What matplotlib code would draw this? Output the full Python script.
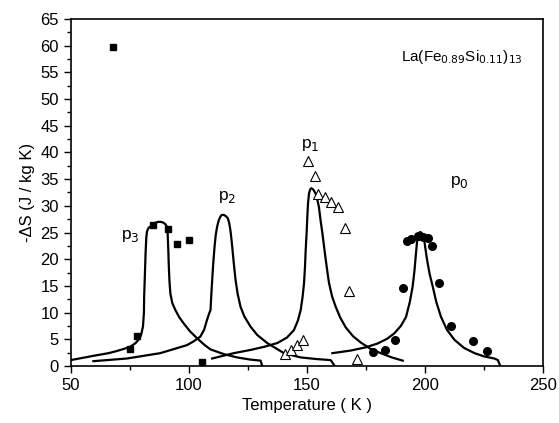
import matplotlib
matplotlib.use('Agg')
import matplotlib.pyplot as plt
from matplotlib.ticker import MultipleLocator

plt.rcParams['font.family'] = ['Liberation Sans', 'DejaVu Sans']

# measured points
t_sq = [68.0, 75.0, 78.1, 84.9, 91.2, 95.0, 100.1, 105.4]
s_sq = [59.8, 3.2, 5.7, 26.4, 25.6, 22.9, 23.6, 0.7]

t_tri = [140.6, 143.1, 145.9, 148.5, 150.5, 153.3, 154.9, 157.6, 160.1, 163.2, 166.0, 167.7, 171.1]
s_tri = [2.2, 3.0, 3.9, 4.9, 38.4, 35.6, 32.2, 31.6, 30.8, 29.8, 25.8, 14.1, 1.4]

t_ci = [177.8, 183.2, 187.5, 190.9, 192.4, 194.1, 197.2, 199.0, 201.2, 202.9, 206.1, 211.1, 220.2, 226.3]
s_ci = [2.7, 3.0, 4.8, 14.7, 23.4, 23.8, 24.3, 24.2, 24.0, 22.5, 15.5, 7.4, 4.7, 2.8]

# calculated curves
t_p3 = [50.0, 59.6, 66.0, 69.5, 72.5, 75.2, 77.5, 78.7, 79.8, 80.6, 81.0, 81.1, 81.4, 81.7,
        82.0, 82.3, 83.0, 83.7, 85.8, 87.0, 87.9, 89.0, 90.0, 90.6, 91.0, 91.3, 91.5, 91.8,
        92.2, 93.0, 94.3, 96.0, 97.8, 100.5, 103.5, 106.5, 109.2, 115.0, 120.5, 126.0, 130.4, 131.1]
s_p3 = [1.1, 1.9, 2.4, 2.8, 3.2, 3.6, 4.3, 4.9, 5.8, 7.4, 10.0, 13.0, 17.0, 21.1,
        24.0, 25.2, 25.9, 26.1, 26.8, 27.0, 27.0, 26.9, 26.6, 26.2, 25.5, 22.0, 19.2, 16.0,
        13.6, 11.8, 10.5, 9.1, 8.0, 6.5, 5.2, 4.0, 3.1, 2.2, 1.6, 1.2, 1.0, 0.0]

t_p2 = [59.6, 73.8, 87.9, 99.2, 102.0, 104.9, 106.5, 107.7, 108.6, 109.2, 109.5, 109.9, 110.4,
        110.9, 111.4, 112.0, 112.7, 113.4, 114.0, 114.8, 115.6, 116.5, 117.1, 117.6, 118.0,
        118.4, 119.0, 119.8, 120.7, 121.9, 123.5, 126.1, 129.0, 133.2, 140.3, 147.4, 154.0,
        160.1, 161.5]
s_p2 = [0.9, 1.4, 2.4, 3.9, 4.6, 5.5, 6.8, 8.6, 9.8, 10.5, 13.0, 16.1, 19.5,
        22.3, 24.5, 26.1, 27.3, 28.0, 28.3, 28.3, 28.1, 27.7, 26.8, 25.5, 24.0,
        22.3, 19.5, 16.1, 13.5, 11.1, 9.3, 7.4, 5.8, 4.3, 2.4, 1.6, 1.3,
        1.1, 0.2]

t_p1 = [109.9, 119.0, 126.1, 132.0, 137.5, 141.5, 144.5, 146.2, 147.4, 148.2, 148.8, 149.2,
        149.5, 149.9, 150.2, 150.5, 150.9, 151.4, 151.9, 152.8, 153.7, 154.4, 155.1, 155.8,
        156.6, 157.3, 158.0, 158.7, 159.4, 160.7, 162.2, 164.2, 166.5, 169.5, 172.8, 177.0,
        181.3, 186.0, 190.6]
s_p1 = [1.4, 2.4, 3.0, 3.6, 4.3, 5.3, 6.7, 8.5, 10.5, 13.0, 15.5, 18.5,
        21.7, 25.0, 28.0, 30.5, 32.3, 33.1, 33.3, 33.0, 32.3, 31.2, 29.8, 27.3,
        24.8, 22.3, 19.9, 17.6, 15.5, 13.0, 11.1, 9.0, 7.2, 5.6, 4.4, 3.2,
        2.4, 1.6, 1.0]

t_p0 = [160.8, 168.7, 175.0, 179.9, 184.0, 187.0, 189.8, 192.0, 193.6, 194.8, 195.6, 196.2,
        196.6, 196.9, 197.5, 198.0, 198.7, 199.5, 200.2, 200.9, 202.0, 203.3, 204.8, 206.8,
        209.3, 212.5, 216.5, 221.0, 225.0, 229.4, 230.9, 231.9]
s_p0 = [2.4, 2.9, 3.5, 4.2, 5.1, 6.1, 7.5, 9.2, 12.0, 14.9, 18.0, 21.1,
        23.0, 24.2, 24.9, 25.1, 24.9, 24.2, 22.0, 19.9, 17.2, 14.9, 12.0, 9.2,
        6.8, 4.9, 3.4, 2.4, 1.8, 1.4, 1.1, 0.0]

labels = ['p$_3$', 'p$_2$', 'p$_1$', 'p$_0$']
label_t = [75.2, 116.4, 151.6, 214.5]
label_s = [24.3, 31.6, 41.4, 34.5]

fig = plt.figure(figsize=(5.59, 4.23), dpi=100)
ax = fig.add_axes([0.1265, 0.1348, 0.8449, 0.8203])

for t, s in [(t_p3, s_p3), (t_p2, s_p2), (t_p1, s_p1), (t_p0, s_p0)]:
    ax.plot(t, s, color='black', lw=1.6, solid_joinstyle='round')

ax.plot(t_sq, s_sq, 's', color='black', ms=5, ls='none')
ax.plot(t_tri, s_tri, '^', mfc='white', mec='black', mew=0.8, ms=7, ls='none')
ax.plot(t_ci, s_ci, 'o', color='black', ms=5.5, ls='none')

for lab, x, y in zip(labels, label_t, label_s):
    ax.text(x, y, lab, fontsize=12.5, ha='center', va='center')

ax.text(189.8, 57.9, r'La(Fe$_{0.89}$Si$_{0.11}$)$_{13}$', fontsize=11, va='center')

ax.set_xlim(50, 250)
ax.set_ylim(0, 65)
ax.xaxis.set_major_locator(MultipleLocator(50))
ax.xaxis.set_minor_locator(MultipleLocator(25))
ax.yaxis.set_major_locator(MultipleLocator(5))
ax.yaxis.set_minor_locator(MultipleLocator(2.5))
ax.tick_params(which='both', direction='out', top=False, right=False, labelsize=12, width=1)
ax.tick_params(which='major', length=5)
ax.tick_params(which='minor', length=3)
for sp in ax.spines.values():
    sp.set_linewidth(1.2)

ax.set_xlabel('Temperature ( K )', fontsize=12)
ax.set_ylabel('-ΔS (J / kg K)', fontsize=12)

fig.savefig('out.png', dpi=100)
